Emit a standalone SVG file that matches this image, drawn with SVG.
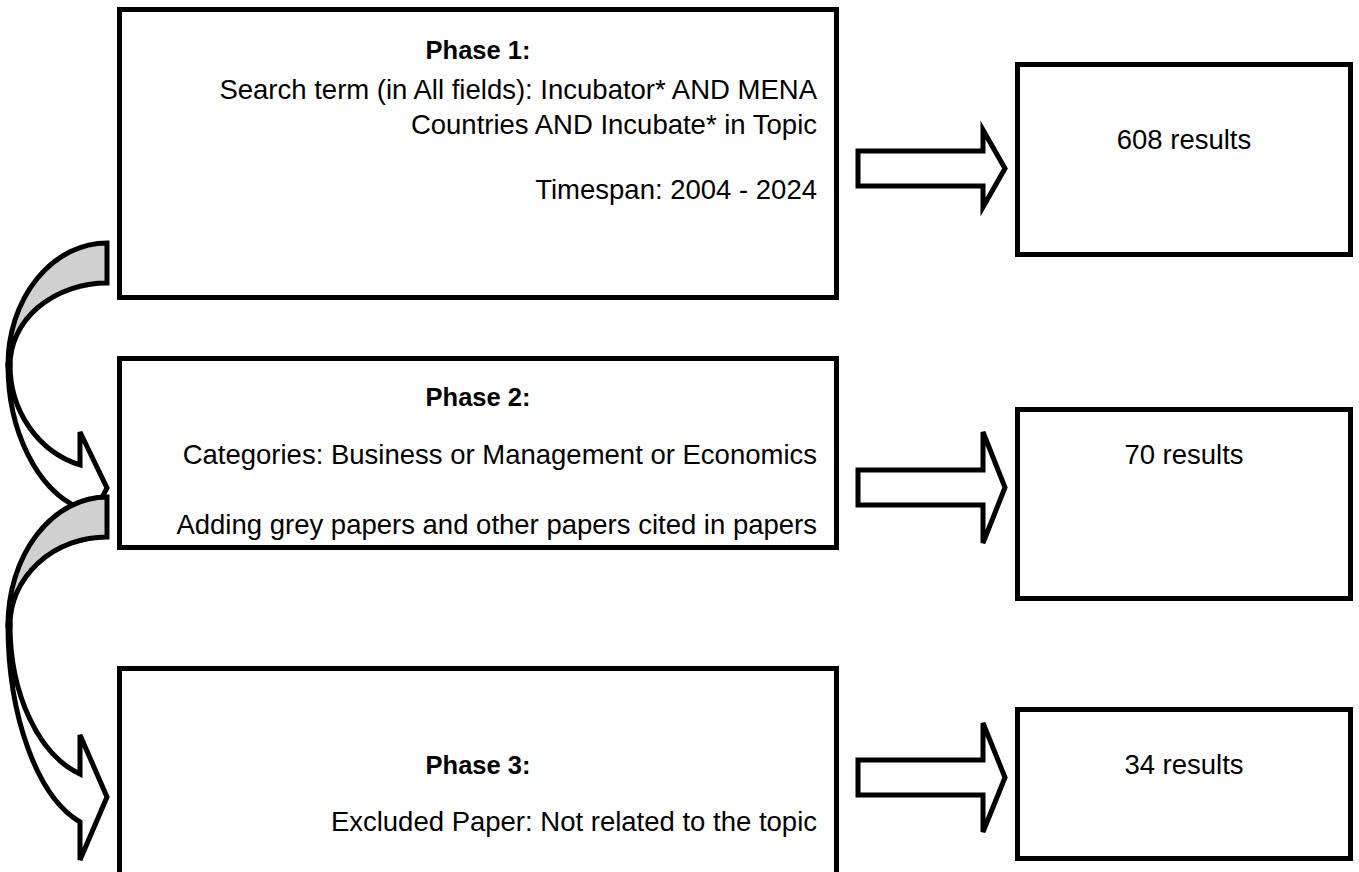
<svg xmlns="http://www.w3.org/2000/svg" width="1359" height="872" viewBox="0 0 1359 872">
<style>
.box{fill:#fff;stroke:#000;stroke-width:5}
.arr{fill:#fff;stroke:#000;stroke-width:5;stroke-linejoin:miter}
.back{fill:#d0d0d0;stroke:#000;stroke-width:5;stroke-linejoin:miter}
text{font-family:"Liberation Sans",Arial,sans-serif;font-size:27.5px;fill:#000}
.t{text-anchor:end}
.h{text-anchor:middle;font-weight:bold;font-size:25.5px}
.c{text-anchor:middle}
</style>
<rect width="1359" height="872" fill="#fff"/>
<g id="connectors">
  <path class="arr" d="M858,151 H983 V130 L1005,168.5 L983,207 V186 H858 Z"/>
  <path class="arr" d="M858,470 H983 V432 L1005,487.5 L983,543 V505 H858 Z"/>
  <path class="arr" d="M858,760 H983 V723 L1005,777.5 L983,832 V795 H858 Z"/>
  <g id="curve1">
    <path class="back" d="M107,243 A99 122 0 0 0 8,365 L10,365 A97 82 0 0 1 107,283 Z"/>
    <path class="arr" d="M8,365 A99 149 0 0 0 80,508.4 L80,540 L107,488 L80,432 L80,464.9 A97 104 0 0 1 10,365 Z"/>
  </g>
  <g id="curve2">
    <path class="back" d="M107,497 A99 128 0 0 0 8,625 L10,625 A97 88 0 0 1 107,537 Z"/>
    <path class="arr" d="M8,625 A99 204.8 0 0 0 80,822 L80,860 L107,797 L80,735 L80,774 A97 155.1 0 0 1 10,625 Z"/>
  </g>
</g>
<g id="phase1">
  <rect class="box" x="119.5" y="9.5" width="717" height="288"/>
  <text class="h" x="478" y="59">Phase 1:</text>
  <text class="t" x="817" y="99">Search term (in All fields): Incubator* AND MENA</text>
  <text class="t" x="817" y="134">Countries AND Incubate* in Topic</text>
  <text class="t" x="817" y="199">Timespan: 2004 - 2024</text>
</g>
<g id="phase2">
  <rect class="box" x="119.5" y="358.5" width="717" height="189"/>
  <text class="h" x="478" y="406">Phase 2:</text>
  <text class="t" x="817" y="464">Categories: Business or Management or Economics</text>
  <text class="t" x="817" y="534">Adding grey papers and other papers cited in papers</text>
</g>
<g id="phase3">
  <rect class="box" x="119.5" y="668.5" width="717" height="220"/>
  <text class="h" x="478" y="774">Phase 3:</text>
  <text class="t" x="817" y="831">Excluded Paper: Not related to the topic</text>
</g>
<g id="result1">
  <rect class="box" x="1017.5" y="64.5" width="333" height="190"/>
  <text class="c" x="1184" y="149">608 results</text>
</g>
<g id="result2">
  <rect class="box" x="1017.5" y="409.5" width="333" height="189"/>
  <text class="c" x="1184" y="464">70 results</text>
</g>
<g id="result3">
  <rect class="box" x="1017.5" y="709.5" width="333" height="149"/>
  <text class="c" x="1184" y="774">34 results</text>
</g>
</svg>
